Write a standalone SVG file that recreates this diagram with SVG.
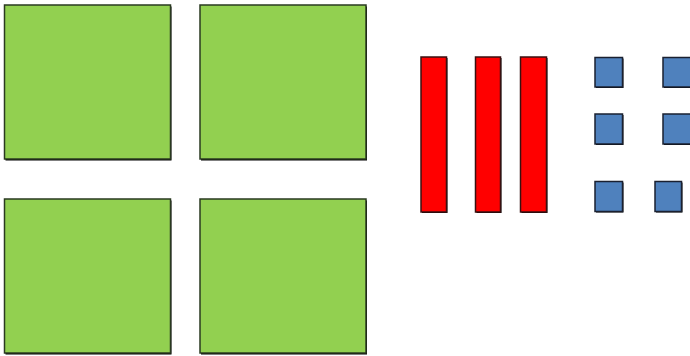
<svg xmlns="http://www.w3.org/2000/svg" width="690" height="356" viewBox="0 0 690 356">
<defs>
<style>
.sh{fill:#000}
.g{fill:#92d050;stroke:#2a3a20;stroke-width:1.5}
.r{fill:#ff0000;stroke:#3a1010;stroke-width:1.5}
.b{fill:#4f81bd;stroke:#1a2030;stroke-width:1.5}
</style>
</defs>
<rect width="690" height="356" fill="#ffffff"/>
<g id="green1"><rect class="sh" x="5.5" y="6.5" width="166" height="154"/><rect class="g" x="4.5" y="5" width="166" height="154"/></g>
<g id="green2"><rect class="sh" x="201" y="6.5" width="166" height="154"/><rect class="g" x="200" y="5" width="166" height="154"/></g>
<g id="green3"><rect class="sh" x="5.5" y="200.5" width="166" height="154"/><rect class="g" x="4.5" y="199" width="166" height="154"/></g>
<g id="green4"><rect class="sh" x="201" y="200.5" width="166" height="154"/><rect class="g" x="200" y="199" width="166" height="154"/></g>
<g id="red1"><rect class="sh" x="422" y="58" width="25.5" height="155"/><rect class="r" x="421" y="57" width="25.5" height="155"/></g>
<g id="red2"><rect class="sh" x="476.5" y="58" width="25" height="155"/><rect class="r" x="475.5" y="57" width="25" height="155"/></g>
<g id="red3"><rect class="sh" x="521.5" y="58" width="26" height="155"/><rect class="r" x="520.5" y="57" width="26" height="155"/></g>
<g id="blue1"><rect class="sh" x="596" y="58.5" width="27.5" height="29.5"/><rect class="b" x="595" y="57.5" width="27.5" height="29.5"/></g>
<g id="blue2"><rect class="sh" x="664" y="58.5" width="30" height="29.5"/><rect class="b" x="663" y="57.5" width="30" height="29.5"/></g>
<g id="blue3"><rect class="sh" x="596" y="115" width="27.5" height="30"/><rect class="b" x="595" y="114" width="27.5" height="30"/></g>
<g id="blue4"><rect class="sh" x="664" y="115" width="30" height="30"/><rect class="b" x="663" y="114" width="30" height="30"/></g>
<g id="blue5"><rect class="sh" x="596" y="182.5" width="27.5" height="30"/><rect class="b" x="595" y="181.5" width="27.5" height="30"/></g>
<g id="blue6"><rect class="sh" x="656" y="182.5" width="26.5" height="30"/><rect class="b" x="655" y="181.5" width="26.5" height="30"/></g>
<g id="connectors"></g>
</svg>
